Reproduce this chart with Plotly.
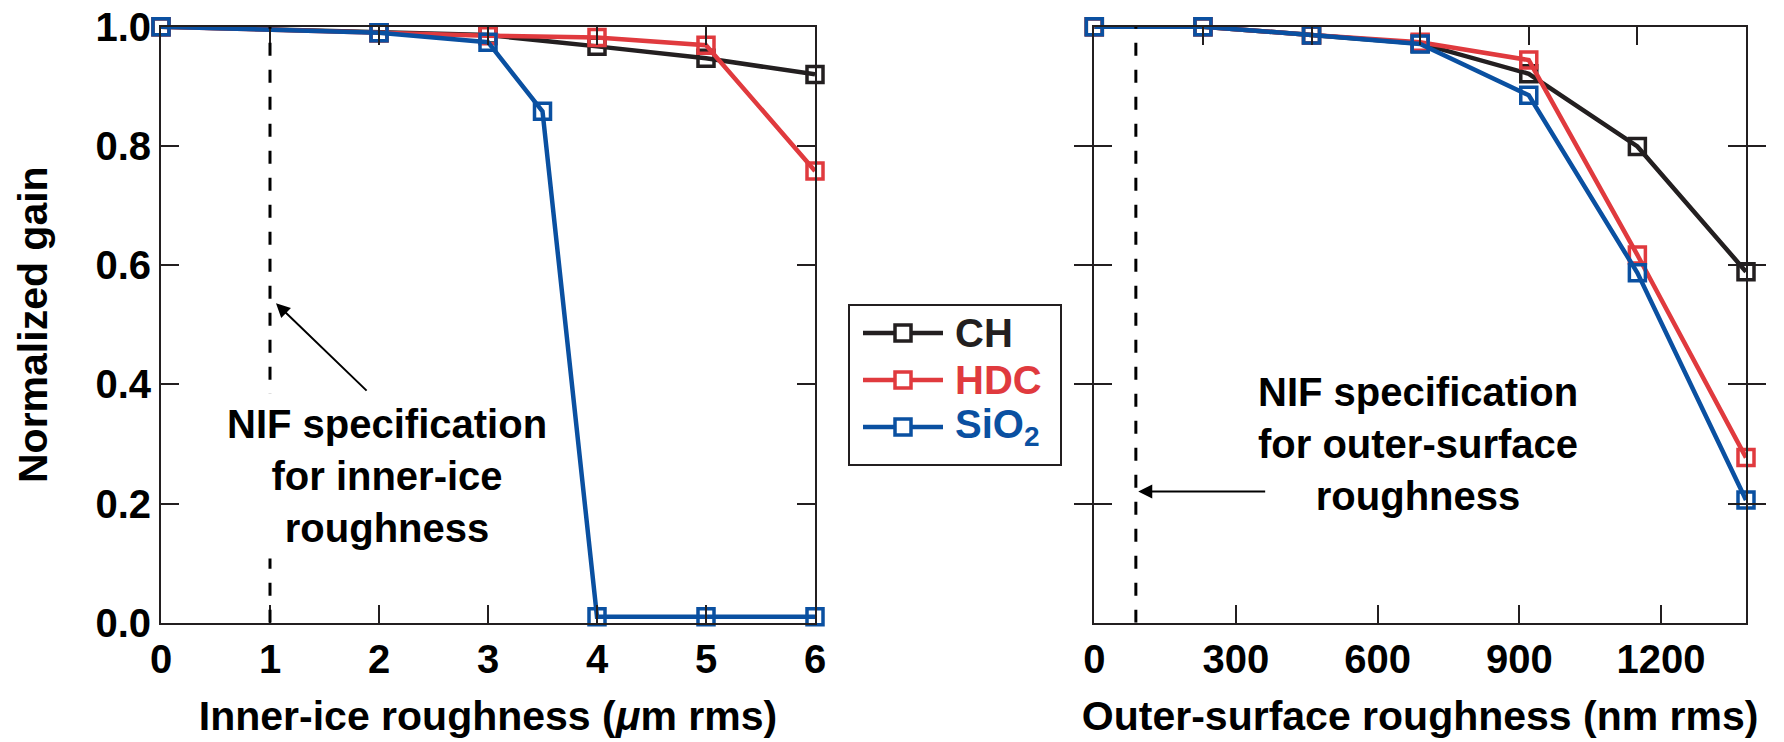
import plotly.graph_objects as go

# ---- data ----
inner_x_ch = [0, 2, 3, 4, 5, 6]
inner_ch = [1.0, 0.99, 0.986, 0.967, 0.947, 0.92]
inner_x_hdc = [0, 2, 3, 4, 5, 6]
inner_hdc = [1.0, 0.99, 0.985, 0.982, 0.969, 0.758]
inner_x_sio2 = [0, 2, 3, 3.5, 4, 5, 6]
inner_sio2 = [1.0, 0.99, 0.974, 0.858, 0.01, 0.01, 0.01]

outer_x = [0, 230, 460, 690, 920, 1150, 1380]
outer_ch = [1.0, 1.0, 0.986, 0.972, 0.921, 0.799, 0.589]
outer_hdc = [1.0, 1.0, 0.986, 0.974, 0.944, 0.617, 0.277]
outer_sio2 = [1.0, 1.0, 0.986, 0.971, 0.885, 0.587, 0.206]

inner_spec = 1.0
outer_spec = 88

inner_ticks = [0, 1, 2, 3, 4, 5, 6]
outer_ticks = [0, 300, 600, 900, 1200]
gain_ticks = [0.0, 0.2, 0.4, 0.6, 0.8, 1.0]

names = ["CH", "HDC", "SiO<sub>2</sub>"]
colors = ["#231f20", "#e03a3e", "#0a50a1"]

FONT = "Liberation Sans, Arial, Helvetica, sans-serif"
AX = "#231f20"
W, H = 1784, 742
LW = 4.5
MS = 16
MLW = 3.5

fig = go.Figure()

inner_sets = [(inner_x_ch, inner_ch), (inner_x_hdc, inner_hdc), (inner_x_sio2, inner_sio2)]
outer_sets = [outer_ch, outer_hdc, outer_sio2]

for i, (name, col) in enumerate(zip(names, colors)):
    xs, ys = inner_sets[i]
    fig.add_trace(go.Scatter(
        x=xs, y=ys, mode="lines+markers", xaxis="x", yaxis="y", name=name,
        line=dict(color=col, width=LW),
        marker=dict(symbol="square-open", size=MS, color=col, line=dict(width=MLW, color=col)),
        cliponaxis=False, showlegend=False,
    ))
for i, (name, col) in enumerate(zip(names, colors)):
    fig.add_trace(go.Scatter(
        x=outer_x, y=outer_sets[i], mode="lines+markers", xaxis="x2", yaxis="y2",
        name=name, line=dict(color=col, width=LW),
        marker=dict(symbol="square-open", size=MS, color=col, line=dict(width=MLW, color=col)),
        cliponaxis=False, showlegend=False,
    ))
# invisible helper trace so the top tick axis of the right panel is drawn
fig.add_trace(go.Scatter(x=outer_x, y=outer_ch, mode="markers", xaxis="x3", yaxis="y2",
                         marker=dict(opacity=0), showlegend=False, hoverinfo="skip"))

# spec lines
fig.add_shape(type="line", xref="x", yref="y", x0=inner_spec, x1=inner_spec, y0=0, y1=1,
              line=dict(color="black", width=3, dash="13px,14px"))
fig.add_shape(type="line", xref="x2", yref="y2", x0=outer_spec, x1=outer_spec, y0=0, y1=1,
              line=dict(color="black", width=3, dash="13px,14px"))

tfont = dict(family=FONT, size=40, color="black", weight="bold")

fig.add_annotation(xref="x", yref="y", x=2.075, y=0.246,
                   text="NIF specification<br>for inner-ice<br>roughness",
                   showarrow=False, font=tfont, bgcolor="white", borderpad=8, align="center")
fig.add_annotation(xref="x", yref="y", x=1.055, y=0.536, ax=1.90, ay=0.387,
                   axref="x", ayref="y", text="", showarrow=True,
                   arrowhead=2, arrowsize=1.4, arrowwidth=2, arrowcolor="black")
fig.add_annotation(xref="x2", yref="y2", x=685, y=0.30,
                   text="NIF specification<br>for outer-surface<br>roughness",
                   showarrow=False, font=tfont, align="center")
fig.add_annotation(xref="x2", yref="y2", x=93, y=0.22, ax=365, ay=0.22,
                   axref="x2", ayref="y2", text="", showarrow=True,
                   arrowhead=2, arrowsize=1.4, arrowwidth=2, arrowcolor="black")

# ---- legend box (drawn in paper coordinates) ----
def px(x):
    return x / W

def py(y):
    return 1 - y / H

LEG_L, LEG_R, LEG_T, LEG_B = 849, 1061, 305, 465
ROW0, ROW_STEP = 333, 47
fig.add_shape(type="rect", xref="paper", yref="paper",
              x0=px(LEG_L), x1=px(LEG_R), y0=py(LEG_B), y1=py(LEG_T),
              line=dict(color=AX, width=2), fillcolor="white", layer="above")
for i, (name, col) in enumerate(zip(names, colors)):
    yy = ROW0 + i * ROW_STEP
    fig.add_shape(type="line", xref="paper", yref="paper",
                  x0=px(LEG_L + 14), x1=px(LEG_L + 94), y0=py(yy), y1=py(yy),
                  line=dict(color=col, width=LW), layer="above")
    fig.add_shape(type="rect", xref="paper", yref="paper",
                  x0=px(LEG_L + 54 - MS / 2), x1=px(LEG_L + 54 + MS / 2),
                  y0=py(yy + MS / 2), y1=py(yy - MS / 2),
                  line=dict(color=col, width=MLW), fillcolor="white", layer="above")
    fig.add_annotation(xref="paper", yref="paper", x=px(LEG_L + 104), y=py(yy),
                       xanchor="left", yanchor="middle", showarrow=False, text=name,
                       font=dict(family=FONT, size=40, color=col, weight="bold"))

common_axis = dict(showline=True, linecolor=AX, linewidth=2, ticks="inside", ticklen=18,
                   tickwidth=2, tickcolor=AX, mirror="allticks", showgrid=False, zeroline=False,
                   automargin=False,
                   tickfont=dict(family=FONT, size=40, color="black", weight="bold"))

y0, y1 = 1 - 622.7 / H, 1 - 26.7 / H
fig.update_layout(
    width=W, height=H,
    margin=dict(l=0, r=0, t=0, b=0),
    paper_bgcolor="white", plot_bgcolor="white",
    font=dict(family=FONT, color="black"),
    showlegend=False,
    xaxis=dict(domain=[161 / W, 815 / W], range=[0, 6], anchor="y",
               tickvals=inner_ticks, ticktext=[str(t) for t in inner_ticks],
               title=dict(text="Inner-ice roughness (<i>μ</i>m rms)",
                          font=dict(family=FONT, size=41, color="black", weight="bold"), standoff=22),
               **common_axis),
    yaxis=dict(domain=[y0, y1], range=[0, 1], anchor="x",
               tickvals=gain_ticks, ticktext=[f"{t:.1f}" for t in gain_ticks],
               title=dict(text="Normalized gain",
                          font=dict(family=FONT, size=41, color="black", weight="bold"), standoff=35),
               **common_axis),
    xaxis2=dict(domain=[1094.3 / W, 1746 / W], range=[0, 1380], anchor="y2",
                tickvals=outer_ticks, ticktext=[str(t) for t in outer_ticks],
                title=dict(text="Outer-surface roughness (nm rms)",
                           font=dict(family=FONT, size=41, color="black", weight="bold"), standoff=22),
                **{**common_axis, "mirror": True}),
    xaxis3=dict(overlaying="x2", side="top", range=[0, 1380], anchor="y2",
                tickvals=outer_x[1:-1], showticklabels=False, ticks="inside", ticklen=18,
                tickwidth=2, tickcolor=AX, showline=False, showgrid=False, zeroline=False,
                automargin=False),
    yaxis2=dict(domain=[y0, y1], range=[0, 1], anchor="x2",
                tickvals=gain_ticks, showticklabels=False, **common_axis),
)

fig.write_html("out.html")
